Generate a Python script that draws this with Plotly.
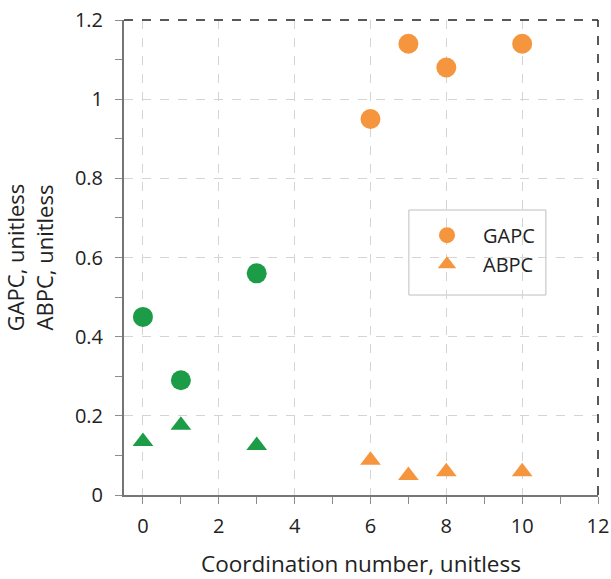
import plotly.graph_objects as go

# Data
cn_green = [0, 1, 3]
gapc_green = [0.45, 0.29, 0.56]
abpc_green = [0.135, 0.176, 0.125]

cn_orange = [6, 7, 8, 10]
gapc_orange = [0.95, 1.14, 1.08, 1.14]
abpc_orange = [0.088, 0.049, 0.059, 0.059]

GREEN = "#1d9c48"
ORANGE = "#f5963f"
FONT = "Open Sans"

fig = go.Figure()

fig.add_trace(go.Scatter(x=cn_orange, y=gapc_orange, mode="markers", name="GAPC",
                         marker=dict(symbol="circle", size=20, color=ORANGE)))
fig.add_trace(go.Scatter(x=cn_orange, y=abpc_orange, mode="markers", name="ABPC",
                         marker=dict(symbol="triangle-up", size=18, color=ORANGE)))
fig.add_trace(go.Scatter(x=cn_green, y=gapc_green, mode="markers", name="GAPC",
                         showlegend=False,
                         marker=dict(symbol="circle", size=20, color=GREEN)))
fig.add_trace(go.Scatter(x=cn_green, y=abpc_green, mode="markers", name="ABPC",
                         showlegend=False,
                         marker=dict(symbol="triangle-up", size=18, color=GREEN)))

axis_common = dict(
    showline=True, linecolor="#767676", linewidth=2,
    showgrid=True, gridcolor="#d4d4d4", griddash="dash", gridwidth=1,
    zeroline=False, ticks="outside", ticklen=7, tickcolor="#8c8c8c", tickwidth=1,
    tickfont=dict(family=FONT, size=20, color="#222222"),
    automargin=False,
)

fig.update_xaxes(range=[-0.5, 12], tick0=0, dtick=2,
                 minor=dict(dtick=1, ticks="outside", ticklen=7, tickcolor="#8c8c8c", showgrid=False),
                 ticklabelstandoff=5,
                 title=dict(text="Coordination number, unitless",
                            font=dict(family=FONT, size=22.5, color="#222222"), standoff=22),
                 **axis_common)
fig.update_yaxes(range=[0, 1.2], tick0=0, dtick=0.2,
                 minor=dict(dtick=0.1, ticks="outside", ticklen=7, tickcolor="#8c8c8c", showgrid=False),
                 tickformat="~g", ticklabelstandoff=8,
                 title=dict(text="GAPC, unitless<br>ABPC, unitless",
                            font=dict(family=FONT, size=22, color="#222222"), standoff=20),
                 **axis_common)

# dashed top and right frame
fig.add_shape(type="line", xref="paper", yref="paper", x0=0, x1=1, y0=1, y1=1,
              line=dict(color="#222222", width=1.5, dash="dash"))
fig.add_shape(type="line", xref="paper", yref="paper", x0=1, x1=1, y0=0, y1=1,
              line=dict(color="#222222", width=1.5, dash="dash"))
# legend frame
fig.add_shape(type="rect", xref="paper", yref="paper", x0=0.601, x1=0.890, y0=0.421, y1=0.6,
              line=dict(color="#bfbfbf", width=1), fillcolor="white", layer="below")

fig.update_layout(
    width=611, height=579,
    margin=dict(l=124, r=13, t=20, b=84, autoexpand=False),
    plot_bgcolor="white", paper_bgcolor="white",
    font=dict(family=FONT),
    legend=dict(x=0.6055, y=0.588, xanchor="left", yanchor="top",
                borderwidth=0, bgcolor="rgba(0,0,0,0)",
                itemwidth=62,
                font=dict(family=FONT, size=20, color="#222222")),
)

fig.write_html("out.html")
